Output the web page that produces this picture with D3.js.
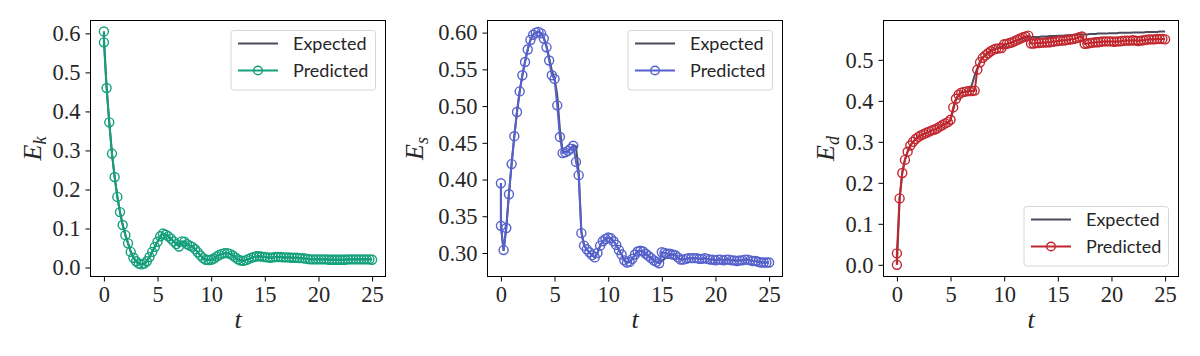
<!DOCTYPE html>
<html>
<head>
<meta charset="utf-8">
<script src="https://cdn.jsdelivr.net/npm/d3@7"></script>
<style>
  body { margin: 0; background: #fff; }
</style>
</head>
<body>
<div class="canvas"></div>
<script>
// time samples (two samples at t = 0)
const times = [
  0, 0, 0.25, 0.5, 0.75, 1, 1.25, 1.5, 1.75, 2,
  2.25, 2.5, 2.75, 3, 3.25, 3.5, 3.75, 4, 4.25, 4.5,
  4.75, 5, 5.25, 5.5, 5.75, 6, 6.25, 6.5, 6.75, 7,
  7.25, 7.5, 7.75, 8, 8.25, 8.5, 8.75, 9, 9.25, 9.5,
  9.75, 10, 10.25, 10.5, 10.75, 11, 11.25, 11.5, 11.75, 12,
  12.25, 12.5, 12.75, 13, 13.25, 13.5, 13.75, 14, 14.25, 14.5,
  14.75, 15, 15.25, 15.5, 15.75, 16, 16.25, 16.5, 16.75, 17,
  17.25, 17.5, 17.75, 18, 18.25, 18.5, 18.75, 19, 19.25, 19.5,
  19.75, 20, 20.25, 20.5, 20.75, 21, 21.25, 21.5, 21.75, 22,
  22.25, 22.5, 22.75, 23, 23.25, 23.5, 23.75, 24, 24.25, 24.5,
  24.75, 25
];

const ekPred = [
  0.605, 0.577, 0.460, 0.372, 0.292, 0.232, 0.181, 0.142, 0.109, 0.083,
  0.062, 0.040, 0.025, 0.016, 0.010, 0.008, 0.010, 0.016, 0.027, 0.040,
  0.053, 0.066, 0.080, 0.087, 0.084, 0.080, 0.074, 0.067, 0.060, 0.054,
  0.067, 0.066, 0.060, 0.056, 0.053, 0.047, 0.039, 0.031, 0.024, 0.020,
  0.019, 0.020, 0.023, 0.028, 0.032, 0.035, 0.037, 0.037, 0.035, 0.031,
  0.026, 0.021, 0.018, 0.017, 0.019, 0.022, 0.025, 0.027, 0.029, 0.029,
  0.028, 0.027, 0.026, 0.025, 0.026, 0.027, 0.027, 0.027, 0.026, 0.026,
  0.026, 0.025, 0.025, 0.025, 0.024, 0.024, 0.023, 0.022, 0.021, 0.021,
  0.021, 0.021, 0.021, 0.021, 0.021, 0.020, 0.020, 0.020, 0.020, 0.020,
  0.020, 0.020, 0.021, 0.021, 0.021, 0.021, 0.021, 0.021, 0.021, 0.021,
  0.021, 0.020
];
const ekExp = [
  0.605, 0.590, 0.462, 0.371, 0.293, 0.232, 0.182, 0.142, 0.110, 0.084,
  0.062, 0.041, 0.026, 0.016, 0.010, 0.008, 0.010, 0.016, 0.027, 0.040,
  0.054, 0.067, 0.080, 0.086, 0.084, 0.080, 0.074, 0.067, 0.061, 0.058,
  0.064, 0.065, 0.060, 0.056, 0.053, 0.047, 0.039, 0.031, 0.024, 0.020,
  0.019, 0.020, 0.023, 0.028, 0.032, 0.035, 0.037, 0.037, 0.035, 0.031,
  0.026, 0.021, 0.018, 0.018, 0.019, 0.022, 0.025, 0.027, 0.028, 0.028,
  0.028, 0.027, 0.026, 0.026, 0.026, 0.027, 0.027, 0.027, 0.026, 0.026,
  0.026, 0.025, 0.025, 0.025, 0.024, 0.024, 0.023, 0.022, 0.021, 0.021,
  0.021, 0.021, 0.021, 0.021, 0.021, 0.020, 0.020, 0.020, 0.020, 0.020,
  0.020, 0.020, 0.021, 0.021, 0.021, 0.021, 0.021, 0.021, 0.021, 0.021,
  0.021, 0.020
];

const esPred = [
  0.395, 0.337, 0.304, 0.334, 0.380, 0.421, 0.459, 0.492, 0.520, 0.542,
  0.560, 0.577, 0.590, 0.597, 0.600, 0.601, 0.599, 0.592, 0.580, 0.562,
  0.542, 0.537, 0.501, 0.458, 0.436, 0.437, 0.439, 0.442, 0.446, 0.424,
  0.406, 0.327, 0.310, 0.305, 0.301, 0.297, 0.294, 0.300, 0.310, 0.316,
  0.319, 0.321, 0.320, 0.316, 0.311, 0.304, 0.298, 0.290, 0.287, 0.288,
  0.292, 0.298, 0.302, 0.303, 0.302, 0.299, 0.296, 0.293, 0.290, 0.288,
  0.286, 0.301, 0.300, 0.299, 0.299, 0.298, 0.297, 0.294, 0.291, 0.291,
  0.292, 0.293, 0.293, 0.293, 0.293, 0.292, 0.292, 0.293, 0.292, 0.291,
  0.291, 0.290, 0.291, 0.291, 0.290, 0.291, 0.291, 0.290, 0.290, 0.289,
  0.290, 0.290, 0.291, 0.291, 0.290, 0.289, 0.289, 0.288, 0.287, 0.287,
  0.287, 0.287
];
const esExp = [
  0.395, 0.337, 0.303, 0.335, 0.381, 0.422, 0.459, 0.492, 0.520, 0.542,
  0.561, 0.577, 0.590, 0.597, 0.600, 0.601, 0.599, 0.593, 0.582, 0.566,
  0.548, 0.538, 0.515, 0.468, 0.440, 0.437, 0.439, 0.442, 0.447, 0.445,
  0.410, 0.330, 0.311, 0.305, 0.301, 0.297, 0.294, 0.300, 0.310, 0.316,
  0.319, 0.321, 0.320, 0.316, 0.311, 0.304, 0.298, 0.290, 0.287, 0.288,
  0.292, 0.298, 0.302, 0.303, 0.302, 0.299, 0.296, 0.293, 0.290, 0.288,
  0.287, 0.289, 0.292, 0.295, 0.297, 0.298, 0.297, 0.294, 0.291, 0.291,
  0.292, 0.293, 0.293, 0.293, 0.293, 0.292, 0.292, 0.293, 0.292, 0.291,
  0.291, 0.290, 0.291, 0.291, 0.290, 0.291, 0.291, 0.290, 0.290, 0.289,
  0.290, 0.290, 0.291, 0.291, 0.290, 0.289, 0.289, 0.288, 0.287, 0.287,
  0.287, 0.287
];

const edPred = [
  0.000, 0.028, 0.162, 0.224, 0.256, 0.276, 0.291, 0.300, 0.307, 0.312,
  0.316, 0.319, 0.322, 0.325, 0.328, 0.330, 0.333, 0.337, 0.341, 0.345,
  0.348, 0.354, 0.384, 0.405, 0.415, 0.420, 0.422, 0.423, 0.424, 0.424,
  0.425, 0.476, 0.494, 0.505, 0.511, 0.516, 0.521, 0.525, 0.527, 0.528,
  0.529, 0.538, 0.539, 0.541, 0.543, 0.546, 0.549, 0.552, 0.555, 0.557,
  0.559, 0.540, 0.540, 0.541, 0.541, 0.542, 0.542, 0.543, 0.543, 0.544,
  0.545, 0.546, 0.547, 0.547, 0.548, 0.549, 0.550, 0.551, 0.553, 0.555,
  0.557, 0.539, 0.540, 0.541, 0.542, 0.543, 0.543, 0.544, 0.545, 0.545,
  0.545, 0.545, 0.544, 0.545, 0.545, 0.546, 0.547, 0.547, 0.547, 0.548,
  0.547, 0.546, 0.547, 0.548, 0.549, 0.550, 0.550, 0.550, 0.551, 0.551,
  0.551, 0.550
];
const edExp = [
  0.000, 0.000, 0.160, 0.225, 0.257, 0.277, 0.291, 0.300, 0.307, 0.312,
  0.316, 0.319, 0.322, 0.325, 0.328, 0.330, 0.333, 0.337, 0.341, 0.344,
  0.347, 0.352, 0.378, 0.402, 0.414, 0.420, 0.422, 0.423, 0.424, 0.440,
  0.462, 0.480, 0.496, 0.506, 0.512, 0.517, 0.522, 0.526, 0.528, 0.530,
  0.532, 0.535, 0.538, 0.541, 0.543, 0.546, 0.548, 0.550, 0.552, 0.554,
  0.555, 0.555, 0.556, 0.556, 0.556, 0.557, 0.557, 0.557, 0.558, 0.558,
  0.558, 0.559, 0.559, 0.559, 0.560, 0.560, 0.560, 0.561, 0.561, 0.561,
  0.562, 0.562, 0.562, 0.563, 0.563, 0.563, 0.564, 0.564, 0.564, 0.564,
  0.565, 0.565, 0.565, 0.565, 0.566, 0.566, 0.566, 0.566, 0.566, 0.567,
  0.567, 0.567, 0.567, 0.567, 0.568, 0.568, 0.568, 0.568, 0.568, 0.569,
  0.569, 0.569
];

const xTicks = [0, 5, 10, 15, 20, 25];
const ekTicks = [0, 0.1, 0.2, 0.3, 0.4, 0.5, 0.6];
const esTicks = [0.30, 0.35, 0.40, 0.45, 0.50, 0.55, 0.60];
const edTicks = [0, 0.1, 0.2, 0.3, 0.4, 0.5];
const legendLabels = ['Expected', 'Predicted'];

const serif = '"Liberation Serif", "DejaVu Serif", serif';
const sans = 'Lato, "Open Sans", sans-serif';
const textColor = '#262626';
const expColor = '#4b4b5e';

const svg = d3.select('.canvas')
  .append('svg')
  .attr('width', 1200)
  .attr('height', 356);

const panels = [
  { left: 90.5, pred: ekPred, exp: ekExp, yDomain: [-0.023, 0.633], yTicks: ekTicks, fmt: '.1f',
    color: '#13a07b', sub: 'k', labelX: 41, legendAtTop: true },
  { left: 487.5, pred: esPred, exp: esExp, yDomain: [0.268, 0.6165], yTicks: esTicks, fmt: '.2f',
    color: '#5561cc', sub: 's', labelX: 423, legendAtTop: true },
  { left: 883.5, pred: edPred, exp: edExp, yDomain: [-0.0285, 0.596], yTicks: edTicks, fmt: '.1f',
    color: '#c1272e', sub: 'd', labelX: 834, legendAtTop: false }
];

panels.forEach(drawPanel);

function drawPanel(p) {
  const w = 295, top = 20.5, bottom = 276.5;
  const n = Math.min(times.length, p.pred.length, p.exp.length);

  const x = d3.scaleLinear().domain([-1.25, 26.25]).range([p.left, p.left + w]);
  const y = d3.scaleLinear().domain(p.yDomain).range([bottom, top]);

  const g = svg.append('g');

  // x axis
  g.append('g')
    .attr('transform', `translate(0,${bottom})`)
    .call(d3.axisBottom(x).tickValues(xTicks).tickSize(5).tickPadding(5).tickFormat(d3.format('d')))
    .call(styleAxis);

  // y axis
  g.append('g')
    .attr('transform', `translate(${p.left},0)`)
    .call(d3.axisLeft(y).tickValues(p.yTicks).tickSize(5).tickPadding(5).tickFormat(d3.format(p.fmt)))
    .call(styleAxis);

  // expected line, then predicted line with open markers
  const line = d3.line()
    .x(d => x(d[0]))
    .y(d => y(d[1]));

  const expPts = d3.range(n).map(i => [times[i], p.exp[i]]);
  const predPts = d3.range(n).map(i => [times[i], p.pred[i]]);

  g.append('path')
    .datum(expPts)
    .attr('d', line)
    .attr('fill', 'none')
    .attr('stroke', expColor)
    .attr('stroke-width', 2);

  g.append('path')
    .datum(predPts)
    .attr('d', line)
    .attr('fill', 'none')
    .attr('stroke', p.color)
    .attr('stroke-width', 2);

  g.append('g')
    .selectAll('circle')
    .data(predPts)
    .join('circle')
    .attr('cx', d => x(d[0]))
    .attr('cy', d => y(d[1]))
    .attr('r', 4.5)
    .attr('fill', 'none')
    .attr('stroke', p.color)
    .attr('stroke-width', 1.4);

  // frame
  g.append('rect')
    .attr('x', p.left)
    .attr('y', top)
    .attr('width', w)
    .attr('height', bottom - top)
    .attr('fill', 'none')
    .attr('stroke', '#000')
    .attr('stroke-width', 1);

  // axis labels
  g.append('text')
    .attr('x', p.left + w / 2)
    .attr('y', 328)
    .attr('text-anchor', 'middle')
    .style('font-family', serif)
    .style('font-style', 'italic')
    .style('font-size', '26px')
    .style('fill', textColor)
    .text('t');

  const yl = g.append('text')
    .attr('transform', `translate(${p.labelX},${(top + bottom) / 2}) rotate(-90)`)
    .attr('text-anchor', 'middle')
    .style('font-family', serif)
    .style('font-style', 'italic')
    .style('fill', textColor);
  yl.append('tspan').style('font-size', '26px').text('E');
  yl.append('tspan').style('font-size', '18px').attr('dy', 5).text(p.sub);

  // legend
  const lw = 144.5, lh = 59.5;
  const lx = p.left + w - 10 - lw;
  const ly = p.legendAtTop ? top + 10 : bottom - 10.5 - lh;
  const lg = g.append('g').attr('transform', `translate(${lx},${ly})`);

  lg.append('rect')
    .attr('width', lw)
    .attr('height', lh)
    .attr('rx', 3)
    .attr('fill', '#fff')
    .attr('fill-opacity', 0.8)
    .attr('stroke', '#d6d6d6')
    .attr('stroke-width', 1);

  legendLabels.forEach((label, i) => {
    const cy = 13 + i * 27;
    const col = i === 0 ? expColor : p.color;
    lg.append('line')
      .attr('x1', 7).attr('x2', 47)
      .attr('y1', cy).attr('y2', cy)
      .attr('stroke', col)
      .attr('stroke-width', 2);
    if (i === 1) {
      lg.append('circle')
        .attr('cx', 27).attr('cy', cy).attr('r', 4.3)
        .attr('fill', 'none')
        .attr('stroke', col)
        .attr('stroke-width', 1.4);
    }
    lg.append('text')
      .attr('x', 62)
      .attr('y', cy + 6.5)
      .style('font-family', sans)
      .style('font-size', '18px')
      .style('fill', textColor)
      .text(label);
  });
}

function styleAxis(sel) {
  sel.select('.domain').remove();
  sel.selectAll('.tick line').attr('stroke', '#000');
  sel.selectAll('.tick text')
    .style('font-family', serif)
    .style('font-size', '22.5px')
    .style('fill', textColor);
}
</script>
</body>
</html>
